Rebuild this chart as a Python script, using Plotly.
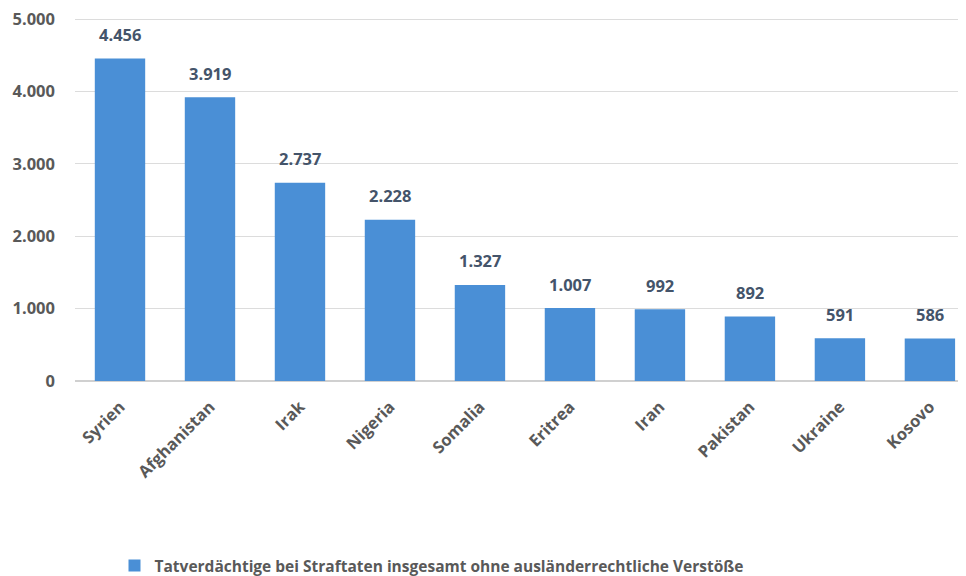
import plotly.graph_objects as go

categories = ["Syrien", "Afghanistan", "Irak", "Nigeria", "Somalia", "Eritrea", "Iran", "Pakistan", "Ukraine", "Kosovo"]
values = [4456, 3919, 2737, 2228, 1327, 1007, 992, 892, 591, 586]
labels = ["4.456", "3.919", "2.737", "2.228", "1.327", "1.007", "992", "892", "591", "586"]
series_name = "Tatverdächtige bei Straftaten insgesamt ohne ausländerrechtliche Verstöße"
y_ticks = [0, 1000, 2000, 3000, 4000, 5000]
y_ticktext = ["0", "1.000", "2.000", "3.000", "4.000", "5.000"]

FONT = "Open Sans"
PLOT_H = 368
Y_TOP = 5000 * PLOT_H / 362

fig = go.Figure()
fig.add_trace(go.Bar(
    x=categories, y=values, name="<b>%s</b>" % series_name,
    marker=dict(color="#4a8fd6", line=dict(width=0)),
    width=0.56, showlegend=True,
))
for c, v, t in zip(categories, values, labels):
    fig.add_annotation(x=c, y=v, text="<b>%s</b>" % t, showarrow=False,
                       yanchor="middle", yshift=24,
                       font=dict(family=FONT, size=16.5, color="#44546a"))

fig.update_layout(
    width=966, height=576,
    margin=dict(l=67, r=0, t=5, b=576 - 5 - PLOT_H, autoexpand=False),
    paper_bgcolor="white", plot_bgcolor="white",
    font=dict(family=FONT, size=13, color="#595959"),
    xaxis=dict(range=[-0.5, 9.49], tickangle=-45, showline=False, ticks="",
               automargin=False,
               tickfont=dict(family=FONT, size=16.5, color="#595959"),
               tickprefix="<b>", ticksuffix="</b>", ticklabelstandoff=12),
    yaxis=dict(range=[0, Y_TOP], tickvals=y_ticks, ticktext=["<b>%s</b>" % s for s in y_ticktext],
               automargin=False, ticklabeloverflow="allow",
               showgrid=True, gridcolor="#dcdcdc", gridwidth=1, zeroline=True,
               zerolinecolor="#d0d0d0", ticks="", ticklabelstandoff=19,
               tickfont=dict(family=FONT, size=16.5, color="#595959")),
    legend=dict(orientation="h", x=(432 - 8 - 67) / 899, xanchor="center",
                y=(381 - 566) / PLOT_H, yanchor="middle",
                font=dict(family=FONT, size=15.5, color="#595959"),
                itemsizing="constant"),
)
fig.write_html("out.html")
